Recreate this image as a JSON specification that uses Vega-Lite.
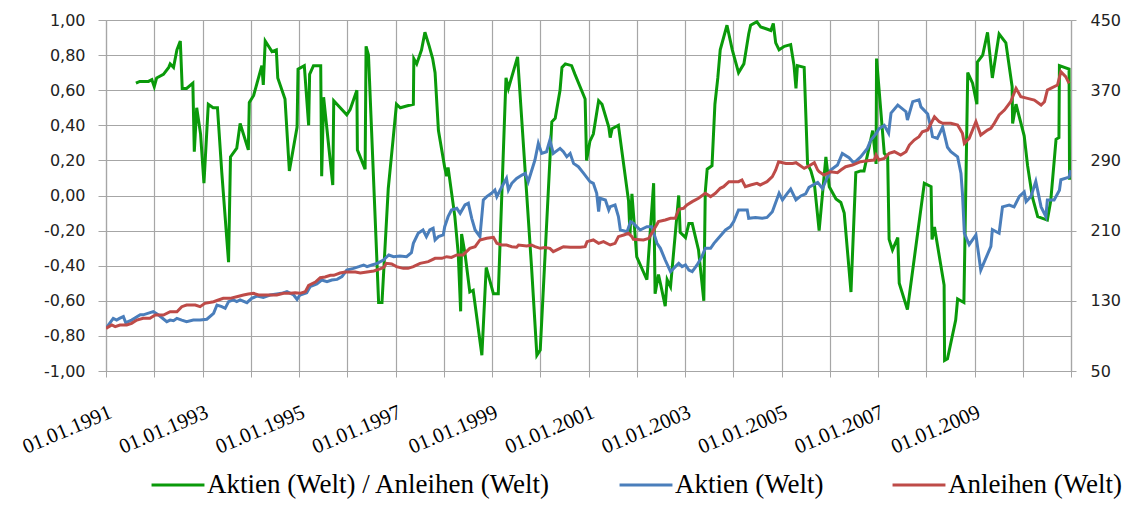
{
  "$schema": "https://vega.github.io/schema/vega-lite/v6.json",
  "width": 965,
  "height": 351,
  "autosize": {"type": "none"},
  "padding": {"left": 106, "top": 20, "right": 60, "bottom": 135},
  "background": "white",
  "config": {"view": {"stroke": null}},
  "datasets": {
    "korr": [
      {"jahr":1991.62,"wert":0.64},{"jahr":1991.70,"wert":0.65},{"jahr":1991.88,"wert":0.65},{"jahr":1991.95,"wert":0.66},{"jahr":1992.00,"wert":0.62},{"jahr":1992.05,"wert":0.67},{"jahr":1992.19,"wert":0.69},{"jahr":1992.30,"wert":0.73},{"jahr":1992.33,"wert":0.75},{"jahr":1992.40,"wert":0.73},{"jahr":1992.47,"wert":0.83},{"jahr":1992.54,"wert":0.88},{"jahr":1992.58,"wert":0.61},{"jahr":1992.67,"wert":0.61},{"jahr":1992.80,"wert":0.64},{"jahr":1992.83,"wert":0.25},{"jahr":1992.88,"wert":0.50},{"jahr":1992.96,"wert":0.35},{"jahr":1993.03,"wert":0.07},{"jahr":1993.12,"wert":0.52},{"jahr":1993.22,"wert":0.50},{"jahr":1993.31,"wert":0.50},{"jahr":1993.40,"wert":0.13},{"jahr":1993.54,"wert":-0.38},{"jahr":1993.58,"wert":0.22},{"jahr":1993.71,"wert":0.27},{"jahr":1993.78,"wert":0.41},{"jahr":1993.95,"wert":0.26},{"jahr":1993.97,"wert":0.53},{"jahr":1994.06,"wert":0.57},{"jahr":1994.23,"wert":0.74},{"jahr":1994.26,"wert":0.63},{"jahr":1994.30,"wert":0.88},{"jahr":1994.44,"wert":0.82},{"jahr":1994.53,"wert":0.83},{"jahr":1994.56,"wert":0.67},{"jahr":1994.71,"wert":0.55},{"jahr":1994.80,"wert":0.14},{"jahr":1994.96,"wert":0.39},{"jahr":1994.98,"wert":0.72},{"jahr":1995.11,"wert":0.74},{"jahr":1995.20,"wert":0.40},{"jahr":1995.22,"wert":0.69},{"jahr":1995.30,"wert":0.74},{"jahr":1995.45,"wert":0.74},{"jahr":1995.47,"wert":0.11},{"jahr":1995.51,"wert":0.56},{"jahr":1995.70,"wert":0.06},{"jahr":1995.72,"wert":0.54},{"jahr":1995.99,"wert":0.46},{"jahr":1996.06,"wert":0.49},{"jahr":1996.20,"wert":0.60},{"jahr":1996.21,"wert":0.26},{"jahr":1996.37,"wert":0.15},{"jahr":1996.39,"wert":0.85},{"jahr":1996.44,"wert":0.80},{"jahr":1996.65,"wert":-0.61},{"jahr":1996.72,"wert":-0.61},{"jahr":1996.85,"wert":0.04},{"jahr":1996.95,"wert":0.32},{"jahr":1997.02,"wert":0.52},{"jahr":1997.10,"wert":0.50},{"jahr":1997.23,"wert":0.51},{"jahr":1997.37,"wert":0.52},{"jahr":1997.38,"wert":0.78},{"jahr":1997.44,"wert":0.75},{"jahr":1997.54,"wert":0.83},{"jahr":1997.61,"wert":0.93},{"jahr":1997.70,"wert":0.85},{"jahr":1997.77,"wert":0.78},{"jahr":1997.82,"wert":0.70},{"jahr":1997.89,"wert":0.37},{"jahr":1998.02,"wert":0.16},{"jahr":1998.06,"wert":0.11},{"jahr":1998.09,"wert":0.16},{"jahr":1998.23,"wert":-0.12},{"jahr":1998.30,"wert":-0.33},{"jahr":1998.35,"wert":-0.66},{"jahr":1998.37,"wert":-0.22},{"jahr":1998.44,"wert":-0.33},{"jahr":1998.54,"wert":-0.55},{"jahr":1998.61,"wert":-0.54},{"jahr":1998.79,"wert":-0.91},{"jahr":1998.88,"wert":-0.41},{"jahr":1999.03,"wert":-0.56},{"jahr":1999.13,"wert":-0.56},{"jahr":1999.29,"wert":0.67},{"jahr":1999.34,"wert":0.61},{"jahr":1999.53,"wert":0.79},{"jahr":1999.82,"wert":-0.41},{"jahr":1999.93,"wert":-0.91},{"jahr":2000.00,"wert":-0.88},{"jahr":2000.24,"wert":0.42},{"jahr":2000.31,"wert":0.44},{"jahr":2000.41,"wert":0.60},{"jahr":2000.45,"wert":0.73},{"jahr":2000.52,"wert":0.75},{"jahr":2000.65,"wert":0.74},{"jahr":2000.72,"wert":0.69},{"jahr":2000.93,"wert":0.55},{"jahr":2000.96,"wert":0.20},{"jahr":2001.03,"wert":0.31},{"jahr":2001.10,"wert":0.35},{"jahr":2001.21,"wert":0.54},{"jahr":2001.28,"wert":0.52},{"jahr":2001.42,"wert":0.39},{"jahr":2001.45,"wert":0.33},{"jahr":2001.49,"wert":0.38},{"jahr":2001.62,"wert":0.40},{"jahr":2001.83,"wert":-0.03},{"jahr":2001.86,"wert":-0.22},{"jahr":2001.90,"wert":0.01},{"jahr":2002.00,"wert":-0.35},{"jahr":2002.21,"wert":-0.48},{"jahr":2002.35,"wert":0.07},{"jahr":2002.38,"wert":-0.56},{"jahr":2002.45,"wert":-0.45},{"jahr":2002.49,"wert":-0.50},{"jahr":2002.59,"wert":-0.63},{"jahr":2002.63,"wert":-0.48},{"jahr":2002.70,"wert":-0.52},{"jahr":2002.87,"wert":0.00},{"jahr":2002.90,"wert":-0.21},{"jahr":2003.01,"wert":-0.24},{"jahr":2003.08,"wert":-0.16},{"jahr":2003.15,"wert":-0.16},{"jahr":2003.28,"wert":-0.31},{"jahr":2003.39,"wert":-0.60},{"jahr":2003.42,"wert":0.02},{"jahr":2003.46,"wert":0.15},{"jahr":2003.56,"wert":0.17},{"jahr":2003.62,"wert":0.52},{"jahr":2003.68,"wert":0.67},{"jahr":2003.73,"wert":0.83},{"jahr":2003.87,"wert":0.97},{"jahr":2003.98,"wert":0.83},{"jahr":2004.11,"wert":0.70},{"jahr":2004.22,"wert":0.75},{"jahr":2004.32,"wert":0.92},{"jahr":2004.36,"wert":0.97},{"jahr":2004.49,"wert":0.99},{"jahr":2004.57,"wert":0.96},{"jahr":2004.68,"wert":0.95},{"jahr":2004.78,"wert":0.94},{"jahr":2004.83,"wert":0.98},{"jahr":2004.88,"wert":0.87},{"jahr":2004.95,"wert":0.83},{"jahr":2005.06,"wert":0.85},{"jahr":2005.19,"wert":0.86},{"jahr":2005.26,"wert":0.74},{"jahr":2005.30,"wert":0.61},{"jahr":2005.33,"wert":0.74},{"jahr":2005.47,"wert":0.73},{"jahr":2005.54,"wert":0.18},{"jahr":2005.61,"wert":0.14},{"jahr":2005.68,"wert":0.07},{"jahr":2005.78,"wert":-0.20},{"jahr":2005.92,"wert":0.22},{"jahr":2005.99,"wert":0.05},{"jahr":2006.13,"wert":-0.02},{"jahr":2006.23,"wert":-0.04},{"jahr":2006.30,"wert":-0.10},{"jahr":2006.44,"wert":-0.55},{"jahr":2006.54,"wert":0.13},{"jahr":2006.64,"wert":0.14},{"jahr":2006.71,"wert":0.14},{"jahr":2006.89,"wert":0.37},{"jahr":2006.96,"wert":0.18},{"jahr":2006.97,"wert":0.78},{"jahr":2007.13,"wert":0.24},{"jahr":2007.20,"wert":0.22},{"jahr":2007.23,"wert":-0.25},{"jahr":2007.30,"wert":-0.31},{"jahr":2007.41,"wert":-0.24},{"jahr":2007.44,"wert":-0.50},{"jahr":2007.61,"wert":-0.65},{"jahr":2007.96,"wert":0.07},{"jahr":2008.10,"wert":0.05},{"jahr":2008.12,"wert":-0.25},{"jahr":2008.17,"wert":-0.18},{"jahr":2008.37,"wert":-0.51},{"jahr":2008.38,"wert":-0.94},{"jahr":2008.44,"wert":-0.93},{"jahr":2008.61,"wert":-0.71},{"jahr":2008.65,"wert":-0.59},{"jahr":2008.78,"wert":-0.61},{"jahr":2008.86,"wert":0.70},{"jahr":2008.96,"wert":0.64},{"jahr":2009.05,"wert":0.52},{"jahr":2009.06,"wert":0.76},{"jahr":2009.17,"wert":0.80},{"jahr":2009.27,"wert":0.93},{"jahr":2009.37,"wert":0.67},{"jahr":2009.51,"wert":0.92},{"jahr":2009.65,"wert":0.87},{"jahr":2009.78,"wert":0.62},{"jahr":2009.79,"wert":0.41},{"jahr":2009.86,"wert":0.52},{"jahr":2010.03,"wert":0.34},{"jahr":2010.10,"wert":0.17},{"jahr":2010.20,"wert":-0.01},{"jahr":2010.31,"wert":-0.12},{"jahr":2010.51,"wert":-0.14},{"jahr":2010.58,"wert":-0.03},{"jahr":2010.69,"wert":0.32},{"jahr":2010.75,"wert":0.33},{"jahr":2010.76,"wert":0.74},{"jahr":2010.96,"wert":0.72},{"jahr":2010.97,"wert":0.09}
    ],
    "aktien": [
      {"jahr":1991.00,"wert":98.6},{"jahr":1991.15,"wert":110},{"jahr":1991.22,"wert":108},{"jahr":1991.28,"wert":110},{"jahr":1991.36,"wert":112},{"jahr":1991.41,"wert":105},{"jahr":1991.53,"wert":108},{"jahr":1991.71,"wert":114},{"jahr":1991.77,"wert":114},{"jahr":1991.98,"wert":117.6},{"jahr":1992.09,"wert":113.8},{"jahr":1992.26,"wert":106.2},{"jahr":1992.33,"wert":108},{"jahr":1992.40,"wert":107.3},{"jahr":1992.47,"wert":110},{"jahr":1992.57,"wert":108},{"jahr":1992.67,"wert":106.2},{"jahr":1992.81,"wert":108},{"jahr":1992.95,"wert":108},{"jahr":1993.09,"wert":109},{"jahr":1993.23,"wert":115.7},{"jahr":1993.30,"wert":125.2},{"jahr":1993.40,"wert":123.3},{"jahr":1993.47,"wert":121.4},{"jahr":1993.54,"wert":129},{"jahr":1993.64,"wert":131},{"jahr":1993.71,"wert":129},{"jahr":1993.78,"wert":131},{"jahr":1993.92,"wert":127.8},{"jahr":1994.02,"wert":132.8},{"jahr":1994.13,"wert":135.4},{"jahr":1994.26,"wert":133.9},{"jahr":1994.40,"wert":136.6},{"jahr":1994.54,"wert":137.7},{"jahr":1994.64,"wert":138.5},{"jahr":1994.75,"wert":140.4},{"jahr":1994.89,"wert":136.6},{"jahr":1994.96,"wert":131.6},{"jahr":1995.02,"wert":136.6},{"jahr":1995.16,"wert":139.2},{"jahr":1995.23,"wert":146.1},{"jahr":1995.37,"wert":149.1},{"jahr":1995.47,"wert":153.7},{"jahr":1995.58,"wert":151.8},{"jahr":1995.68,"wert":153.7},{"jahr":1995.79,"wert":154.4},{"jahr":1995.89,"wert":157.5},{"jahr":1995.99,"wert":165.1},{"jahr":1996.13,"wert":167},{"jahr":1996.24,"wert":168.9},{"jahr":1996.34,"wert":170.8},{"jahr":1996.41,"wert":168.9},{"jahr":1996.51,"wert":170.8},{"jahr":1996.62,"wert":172.7},{"jahr":1996.75,"wert":176.5},{"jahr":1996.86,"wert":182.2},{"jahr":1996.96,"wert":180.3},{"jahr":1997.09,"wert":181},{"jahr":1997.23,"wert":180.3},{"jahr":1997.33,"wert":184.8},{"jahr":1997.37,"wert":195.5},{"jahr":1997.47,"wert":206.9},{"jahr":1997.57,"wert":210.7},{"jahr":1997.64,"wert":203.1},{"jahr":1997.71,"wert":210.7},{"jahr":1997.78,"wert":212.6},{"jahr":1997.82,"wert":199.3},{"jahr":1997.89,"wert":203.1},{"jahr":1997.99,"wert":205},{"jahr":1998.02,"wert":214.5},{"jahr":1998.09,"wert":225.9},{"jahr":1998.16,"wert":233.5},{"jahr":1998.27,"wert":235.4},{"jahr":1998.34,"wert":229.7},{"jahr":1998.44,"wert":239.2},{"jahr":1998.51,"wert":241.1},{"jahr":1998.58,"wert":224},{"jahr":1998.65,"wert":210.7},{"jahr":1998.75,"wert":203.1},{"jahr":1998.82,"wert":244.9},{"jahr":1998.89,"wert":248.7},{"jahr":1998.99,"wert":252.5},{"jahr":1999.06,"wert":256.3},{"jahr":1999.10,"wert":248.7},{"jahr":1999.17,"wert":256.3},{"jahr":1999.30,"wert":269.5},{"jahr":1999.34,"wert":256.3},{"jahr":1999.41,"wert":263.9},{"jahr":1999.51,"wert":269.5},{"jahr":1999.62,"wert":273.3},{"jahr":1999.69,"wert":275.2},{"jahr":1999.75,"wert":265.8},{"jahr":1999.89,"wert":290.4},{"jahr":1999.96,"wert":309.4},{"jahr":2000.03,"wert":298},{"jahr":2000.13,"wert":299.9},{"jahr":2000.20,"wert":313.2},{"jahr":2000.27,"wert":298},{"jahr":2000.41,"wert":303.7},{"jahr":2000.48,"wert":299.9},{"jahr":2000.55,"wert":294.2},{"jahr":2000.62,"wert":298},{"jahr":2000.69,"wert":286.6},{"jahr":2000.79,"wert":282.8},{"jahr":2000.90,"wert":275.2},{"jahr":2001.03,"wert":265.8},{"jahr":2001.10,"wert":263.9},{"jahr":2001.17,"wert":252.5},{"jahr":2001.21,"wert":231.6},{"jahr":2001.24,"wert":246.8},{"jahr":2001.35,"wert":244.9},{"jahr":2001.42,"wert":233.5},{"jahr":2001.45,"wert":237.3},{"jahr":2001.55,"wert":239.2},{"jahr":2001.62,"wert":225.9},{"jahr":2001.66,"wert":210.7},{"jahr":2001.80,"wert":208.8},{"jahr":2001.87,"wert":220.2},{"jahr":2001.93,"wert":218.3},{"jahr":2002.07,"wert":210.7},{"jahr":2002.21,"wert":214.5},{"jahr":2002.31,"wert":214.5},{"jahr":2002.42,"wert":195.5},{"jahr":2002.49,"wert":189.8},{"jahr":2002.59,"wert":176.5},{"jahr":2002.70,"wert":163.2},{"jahr":2002.80,"wert":168.9},{"jahr":2002.87,"wert":172.7},{"jahr":2002.94,"wert":168.9},{"jahr":2003.01,"wert":170.8},{"jahr":2003.08,"wert":165.1},{"jahr":2003.15,"wert":163.2},{"jahr":2003.25,"wert":170.8},{"jahr":2003.35,"wert":180.3},{"jahr":2003.42,"wert":189.8},{"jahr":2003.53,"wert":189.8},{"jahr":2003.60,"wert":195.5},{"jahr":2003.66,"wert":199.3},{"jahr":2003.84,"wert":210.7},{"jahr":2003.94,"wert":214.5},{"jahr":2004.01,"wert":220.2},{"jahr":2004.11,"wert":233.5},{"jahr":2004.29,"wert":233.5},{"jahr":2004.32,"wert":224},{"jahr":2004.46,"wert":224.8},{"jahr":2004.60,"wert":224},{"jahr":2004.70,"wert":225},{"jahr":2004.81,"wert":231.6},{"jahr":2004.95,"wert":252.5},{"jahr":2005.02,"wert":244.9},{"jahr":2005.12,"wert":252.5},{"jahr":2005.19,"wert":257.4},{"jahr":2005.30,"wert":244.9},{"jahr":2005.40,"wert":249.5},{"jahr":2005.50,"wert":251.8},{"jahr":2005.57,"wert":259.4},{"jahr":2005.75,"wert":265},{"jahr":2005.85,"wert":258},{"jahr":2005.92,"wert":267},{"jahr":2006.02,"wert":279},{"jahr":2006.16,"wert":284.7},{"jahr":2006.26,"wert":298},{"jahr":2006.40,"wert":293},{"jahr":2006.50,"wert":287},{"jahr":2006.64,"wert":294},{"jahr":2006.78,"wert":303.7},{"jahr":2006.85,"wert":313},{"jahr":2006.96,"wert":320.5},{"jahr":2007.02,"wert":326},{"jahr":2007.13,"wert":330},{"jahr":2007.22,"wert":321},{"jahr":2007.27,"wert":344},{"jahr":2007.41,"wert":353},{"jahr":2007.58,"wert":345.5},{"jahr":2007.61,"wert":336},{"jahr":2007.72,"wert":357},{"jahr":2007.85,"wert":359},{"jahr":2007.89,"wert":351},{"jahr":2008.03,"wert":343},{"jahr":2008.10,"wert":326},{"jahr":2008.13,"wert":317},{"jahr":2008.23,"wert":315},{"jahr":2008.34,"wert":328},{"jahr":2008.44,"wert":305},{"jahr":2008.51,"wert":300},{"jahr":2008.65,"wert":294},{"jahr":2008.72,"wert":275},{"jahr":2008.75,"wert":252.5},{"jahr":2008.79,"wert":207},{"jahr":2008.89,"wert":194},{"jahr":2009.03,"wert":205},{"jahr":2009.13,"wert":165},{"jahr":2009.34,"wert":192},{"jahr":2009.37,"wert":211},{"jahr":2009.51,"wert":207},{"jahr":2009.58,"wert":237},{"jahr":2009.72,"wert":239},{"jahr":2009.82,"wert":237},{"jahr":2009.93,"wert":249},{"jahr":2010.03,"wert":254},{"jahr":2010.07,"wert":243},{"jahr":2010.17,"wert":249},{"jahr":2010.27,"wert":266},{"jahr":2010.38,"wert":237},{"jahr":2010.48,"wert":226},{"jahr":2010.51,"wert":245},{"jahr":2010.65,"wert":245},{"jahr":2010.76,"wert":256},{"jahr":2010.79,"wert":268},{"jahr":2010.96,"wert":271},{"jahr":2010.99,"wert":279}
    ],
    "anleihen": [
      {"jahr":1991.00,"wert":98.6},{"jahr":1991.12,"wert":102.4},{"jahr":1991.19,"wert":100.5},{"jahr":1991.29,"wert":102.4},{"jahr":1991.43,"wert":102.4},{"jahr":1991.53,"wert":104.3},{"jahr":1991.64,"wert":108.1},{"jahr":1991.77,"wert":110},{"jahr":1991.91,"wert":110},{"jahr":1992.02,"wert":113.8},{"jahr":1992.19,"wert":113.8},{"jahr":1992.33,"wert":117.6},{"jahr":1992.47,"wert":117.6},{"jahr":1992.57,"wert":123.3},{"jahr":1992.67,"wert":125.2},{"jahr":1992.85,"wert":125.2},{"jahr":1992.95,"wert":123.3},{"jahr":1993.05,"wert":127.1},{"jahr":1993.23,"wert":129},{"jahr":1993.33,"wert":130.9},{"jahr":1993.43,"wert":132.8},{"jahr":1993.57,"wert":132.8},{"jahr":1993.71,"wert":134.7},{"jahr":1993.85,"wert":136.6},{"jahr":1993.95,"wert":137.7},{"jahr":1994.06,"wert":138.5},{"jahr":1994.16,"wert":136.6},{"jahr":1994.33,"wert":136.6},{"jahr":1994.54,"wert":136.6},{"jahr":1994.68,"wert":138.5},{"jahr":1994.82,"wert":138.5},{"jahr":1994.92,"wert":139.2},{"jahr":1995.02,"wert":138.5},{"jahr":1995.13,"wert":140.4},{"jahr":1995.20,"wert":147.6},{"jahr":1995.34,"wert":151.4},{"jahr":1995.44,"wert":156.3},{"jahr":1995.54,"wert":157.1},{"jahr":1995.65,"wert":159},{"jahr":1995.72,"wert":159},{"jahr":1995.85,"wert":161.7},{"jahr":1995.96,"wert":162.8},{"jahr":1996.06,"wert":162.8},{"jahr":1996.17,"wert":162.8},{"jahr":1996.27,"wert":161.7},{"jahr":1996.41,"wert":162.8},{"jahr":1996.55,"wert":164},{"jahr":1996.68,"wert":166.3},{"jahr":1996.76,"wert":168.2},{"jahr":1996.81,"wert":172.7},{"jahr":1996.92,"wert":171.9},{"jahr":1997.02,"wert":168.9},{"jahr":1997.16,"wert":167},{"jahr":1997.26,"wert":167},{"jahr":1997.37,"wert":168.9},{"jahr":1997.51,"wert":172.7},{"jahr":1997.68,"wert":174.6},{"jahr":1997.82,"wert":178.4},{"jahr":1997.96,"wert":178.4},{"jahr":1998.06,"wert":180.3},{"jahr":1998.16,"wert":179.5},{"jahr":1998.27,"wert":182.2},{"jahr":1998.40,"wert":182.2},{"jahr":1998.47,"wert":186},{"jahr":1998.54,"wert":189.8},{"jahr":1998.65,"wert":191.7},{"jahr":1998.75,"wert":199.3},{"jahr":1998.89,"wert":201.2},{"jahr":1999.03,"wert":202.3},{"jahr":1999.10,"wert":195.5},{"jahr":1999.20,"wert":193.6},{"jahr":1999.30,"wert":193.6},{"jahr":1999.41,"wert":191.7},{"jahr":1999.51,"wert":191},{"jahr":1999.55,"wert":193.6},{"jahr":1999.72,"wert":192.5},{"jahr":1999.82,"wert":193.6},{"jahr":1999.89,"wert":191.7},{"jahr":2000.00,"wert":189.8},{"jahr":2000.10,"wert":190.6},{"jahr":2000.20,"wert":189.8},{"jahr":2000.27,"wert":186},{"jahr":2000.41,"wert":189.8},{"jahr":2000.48,"wert":191.7},{"jahr":2000.62,"wert":191},{"jahr":2000.83,"wert":191},{"jahr":2000.93,"wert":191.7},{"jahr":2000.97,"wert":197.4},{"jahr":2001.10,"wert":199.3},{"jahr":2001.21,"wert":195.5},{"jahr":2001.31,"wert":197.4},{"jahr":2001.45,"wert":193.6},{"jahr":2001.55,"wert":195.5},{"jahr":2001.62,"wert":203.1},{"jahr":2001.73,"wert":205},{"jahr":2001.83,"wert":206.9},{"jahr":2001.90,"wert":203.1},{"jahr":2001.93,"wert":200.1},{"jahr":2002.14,"wert":199.3},{"jahr":2002.25,"wert":201.2},{"jahr":2002.35,"wert":210.7},{"jahr":2002.45,"wert":220.2},{"jahr":2002.59,"wert":222.1},{"jahr":2002.70,"wert":224},{"jahr":2002.80,"wert":224},{"jahr":2002.87,"wert":234.3},{"jahr":2002.97,"wert":235.4},{"jahr":2003.04,"wert":239.2},{"jahr":2003.15,"wert":243},{"jahr":2003.28,"wert":246.8},{"jahr":2003.42,"wert":252.5},{"jahr":2003.53,"wert":248.7},{"jahr":2003.63,"wert":252.5},{"jahr":2003.73,"wert":258.2},{"jahr":2003.80,"wert":260.1},{"jahr":2003.91,"wert":265.8},{"jahr":2004.11,"wert":265.8},{"jahr":2004.18,"wert":267.7},{"jahr":2004.25,"wert":260.1},{"jahr":2004.36,"wert":262},{"jahr":2004.49,"wert":263.9},{"jahr":2004.56,"wert":262},{"jahr":2004.70,"wert":265.8},{"jahr":2004.81,"wert":271.5},{"jahr":2004.88,"wert":279.1},{"jahr":2004.94,"wert":288.5},{"jahr":2005.09,"wert":286.6},{"jahr":2005.23,"wert":286.6},{"jahr":2005.30,"wert":287.4},{"jahr":2005.37,"wert":284.7},{"jahr":2005.47,"wert":280.9},{"jahr":2005.54,"wert":282.8},{"jahr":2005.68,"wert":287.4},{"jahr":2005.75,"wert":279},{"jahr":2005.78,"wert":277.1},{"jahr":2005.88,"wert":273.3},{"jahr":2006.02,"wert":277.1},{"jahr":2006.16,"wert":275.9},{"jahr":2006.23,"wert":279},{"jahr":2006.33,"wert":282.8},{"jahr":2006.47,"wert":284.7},{"jahr":2006.64,"wert":288.5},{"jahr":2006.78,"wert":289.6},{"jahr":2006.92,"wert":290.4},{"jahr":2006.96,"wert":296.1},{"jahr":2007.02,"wert":290.4},{"jahr":2007.13,"wert":292.3},{"jahr":2007.23,"wert":298},{"jahr":2007.34,"wert":299.9},{"jahr":2007.47,"wert":296.1},{"jahr":2007.58,"wert":299.9},{"jahr":2007.65,"wert":307.5},{"jahr":2007.75,"wert":313.2},{"jahr":2007.85,"wert":317},{"jahr":2007.92,"wert":322.7},{"jahr":2008.03,"wert":324.6},{"jahr":2008.17,"wert":339.8},{"jahr":2008.27,"wert":334.1},{"jahr":2008.34,"wert":332.2},{"jahr":2008.51,"wert":332.2},{"jahr":2008.65,"wert":330.3},{"jahr":2008.75,"wert":320.8},{"jahr":2008.79,"wert":309.4},{"jahr":2008.89,"wert":315.1},{"jahr":2009.03,"wert":334.1},{"jahr":2009.13,"wert":318.9},{"jahr":2009.27,"wert":324.6},{"jahr":2009.34,"wert":326.5},{"jahr":2009.41,"wert":332.2},{"jahr":2009.51,"wert":341.7},{"jahr":2009.62,"wert":347.4},{"jahr":2009.75,"wert":356.9},{"jahr":2009.86,"wert":372.1},{"jahr":2009.96,"wert":362.6},{"jahr":2010.10,"wert":360.7},{"jahr":2010.24,"wert":358.8},{"jahr":2010.38,"wert":353.1},{"jahr":2010.45,"wert":356.9},{"jahr":2010.51,"wert":370.2},{"jahr":2010.58,"wert":372.1},{"jahr":2010.72,"wert":375.9},{"jahr":2010.79,"wert":391.1},{"jahr":2010.89,"wert":385.4},{"jahr":2010.96,"wert":377.8}
    ]
  },
  "encoding": {
    "x": {
      "field": "jahr",
      "type": "quantitative",
      "scale": {"domain": [1991, 2011], "nice": false, "zero": false},
      "axis": {
        "title": null,
        "values": [1991,1992,1993,1994,1995,1996,1997,1998,1999,2000,2001,2002,2003,2004,2005,2006,2007,2008,2009,2010,2011],
        "labelExpr": "datum.value % 2 == 1 && datum.value < 2010 ? '01.01.' + datum.value : ''",
        "labelAngle": -23,
        "labelAlign": "right",
        "labelBaseline": "top",
        "labelFont": "Liberation Serif, Times New Roman, serif",
        "labelFontSize": 21,
        "labelColor": "#000000",
        "labelPadding": 24,
        "labelOverlap": false,
        "labelBound": false,
        "labelFlush": false,
        "grid": true,
        "gridColor": "#A6A6A6",
        "gridWidth": 1.2,
        "tickColor": "#A6A6A6",
        "tickSize": 6,
        "domainColor": "#A6A6A6",
        "domainWidth": 1.2
      }
    }
  },
  "layer": [
    {
      "data": {"name": "korr"},
      "mark": {"type": "line", "strokeWidth": 3, "clip": true},
      "encoding": {
        "y": {
          "field": "wert",
          "type": "quantitative",
          "scale": {"domain": [-1, 1], "nice": false, "zero": false},
          "axis": {
            "orient": "left",
            "title": null,
            "values": [-1, -0.8, -0.6, -0.4, -0.2, 0, 0.2, 0.4, 0.6, 0.8, 1],
            "labelExpr": "replace(replace(format(datum.value, '.2f'), '.', ','), '\u2212', '-')",
            "labelFont": "DejaVu Sans",
            "labelFontSize": 16,
            "labelColor": "#222222",
            "labelPadding": 13,
            "grid": true,
            "gridColor": "#A6A6A6",
            "gridWidth": 1.2,
            "tickColor": "#A6A6A6",
            "tickSize": 8,
            "domainColor": "#A6A6A6",
            "domainWidth": 1.2
          }
        },
        "color": {
          "datum": "Aktien (Welt) / Anleihen (Welt)",
          "type": "nominal",
          "scale": {
            "domain": ["Aktien (Welt) / Anleihen (Welt)", "Aktien (Welt)", "Anleihen (Welt)"],
            "range": ["#0A9A0A", "#4A7EBB", "#BE4B48"]
          },
          "legend": {
            "orient": "none",
            "legendX": 44,
            "legendY": 437,
            "direction": "horizontal",
            "columns": 3,
            "title": null,
            "symbolType": "stroke",
            "symbolSize": 2800,
            "symbolStrokeWidth": 3,
            "labelFont": "Liberation Serif, Times New Roman, serif",
            "labelFontSize": 27,
            "labelColor": "#000000",
            "labelOffset": 1,
            "labelLimit": 600,
            "columnPadding": 62
          }
        }
      }
    },
    {
      "layer": [
        {
          "data": {"name": "aktien"},
          "mark": {"type": "line", "strokeWidth": 3, "clip": true},
          "encoding": {
            "y": {
              "field": "wert",
              "type": "quantitative",
              "scale": {"domain": [50, 450], "nice": false, "zero": false},
              "axis": {
                "orient": "right",
                "title": null,
                "values": [50, 90, 130, 170, 210, 250, 290, 330, 370, 410, 450],
                "labelFont": "DejaVu Sans",
                "labelFontSize": 16,
                "labelColor": "#222222",
                "labelPadding": 14,
                "grid": false,
                "tickColor": "#A6A6A6",
                "tickSize": 5,
                "domainColor": "#A6A6A6",
                "domainWidth": 1.2
              }
            },
            "color": {"datum": "Aktien (Welt)", "type": "nominal"}
          }
        },
        {
          "data": {"name": "anleihen"},
          "mark": {"type": "line", "strokeWidth": 3, "clip": true},
          "encoding": {
            "y": {"field": "wert", "type": "quantitative"},
            "color": {"datum": "Anleihen (Welt)", "type": "nominal"}
          }
        }
      ]
    }
  ],
  "resolve": {"scale": {"y": "independent"}}
}
